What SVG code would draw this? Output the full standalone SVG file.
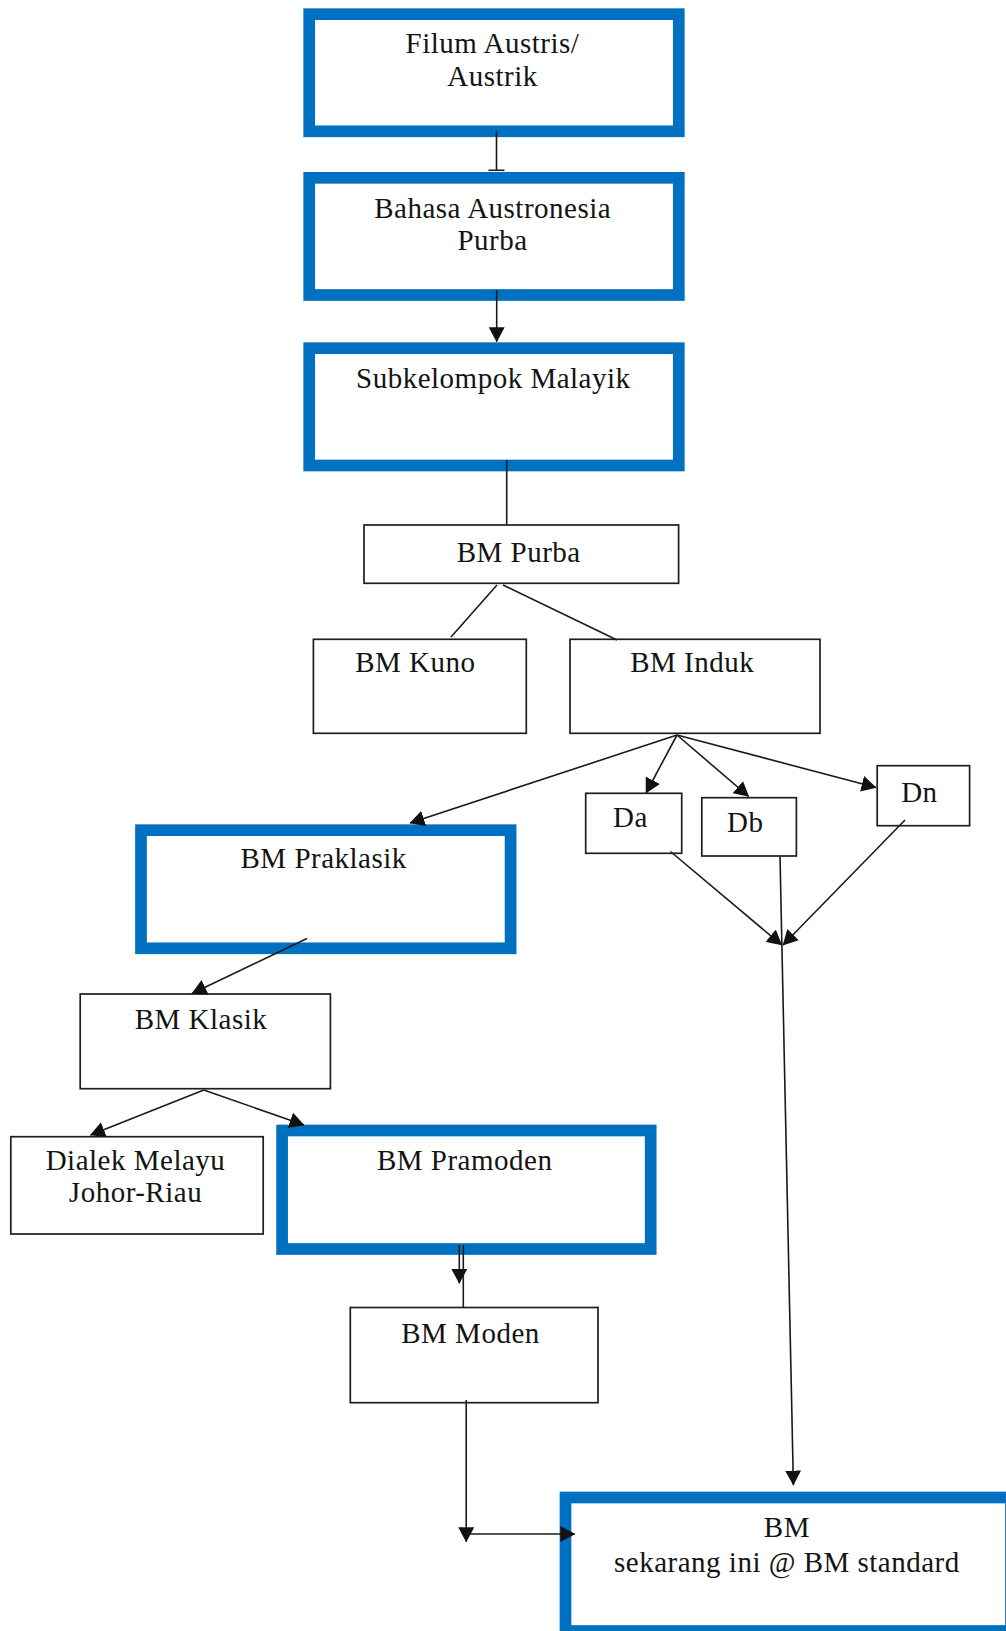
<svg xmlns="http://www.w3.org/2000/svg" width="1006" height="1631" viewBox="0 0 1006 1631">
<style>
.blue{fill:#fff;stroke:#0070C0;stroke-width:11.7}
.thin{fill:#fff;stroke:#1e1e1e;stroke-width:1.7}
.t{font-family:"Liberation Serif","Times New Roman",serif;font-size:29px;letter-spacing:0.5px;fill:#141414;text-anchor:middle}
.c{fill:none;stroke:#1a1a1a;stroke-width:1.6}
</style>
<defs>
<marker id="arr" markerUnits="userSpaceOnUse" markerWidth="15" markerHeight="16" viewBox="0 0 14 15" refX="13.5" refY="7.5" orient="auto"><path d="M0,0 L14,7.5 L0,15 z" fill="#111"/></marker>
</defs>
<rect width="1006" height="1631" fill="#fff"/>
<g id="n-filum"><rect class="blue" x="309.2" y="14.2" width="369.6" height="117.1"/><text class="t" x="492.5" y="53">Filum Austris/</text><text class="t" x="492.5" y="86">Austrik</text></g>
<g id="n-austronesia"><rect class="blue" x="309.2" y="177.8" width="369.6" height="117.2"/><text class="t" x="492.7" y="218.3">Bahasa Austronesia</text><text class="t" x="492.5" y="250">Purba</text></g>
<g id="n-malayik"><rect class="blue" x="309.2" y="348.2" width="369.6" height="117.3"/><text class="t" x="493.3" y="387.7">Subkelompok Malayik</text></g>
<g id="n-purba"><rect class="thin" x="364" y="525" width="314.6" height="58.3"/><text class="t" x="518.7" y="561.7">BM Purba</text></g>
<g id="n-kuno"><rect class="thin" x="313.4" y="639.3" width="212.9" height="94"/><text class="t" x="415.4" y="671.7">BM Kuno</text></g>
<g id="n-induk"><rect class="thin" x="570" y="639.3" width="250" height="94"/><text class="t" x="692.2" y="672">BM Induk</text></g>
<g id="n-da"><rect class="thin" x="585.7" y="793.3" width="96" height="60"/><text class="t" x="630.4" y="826.7">Da</text></g>
<g id="n-db"><rect class="thin" x="701.8" y="797.7" width="94.6" height="58.3"/><text class="t" x="745.3" y="831.7">Db</text></g>
<g id="n-dn"><rect class="thin" x="877.2" y="765.7" width="92.4" height="60"/><text class="t" x="919.4" y="801.7">Dn</text></g>
<g id="n-praklasik"><rect class="blue" x="141" y="830.2" width="369.6" height="118.1"/><text class="t" x="323.7" y="868.3">BM Praklasik</text></g>
<g id="n-klasik"><rect class="thin" x="80.2" y="994" width="250.2" height="94.7"/><text class="t" x="201" y="1029.3">BM Klasik</text></g>
<g id="n-dialek"><rect class="thin" x="10.8" y="1136.7" width="252.4" height="97.3"/><text class="t" x="135.5" y="1170">Dialek Melayu</text><text class="t" x="135.5" y="1201.7">Johor-Riau</text></g>
<g id="n-pramoden"><rect class="blue" x="282.1" y="1130.5" width="368.6" height="118.5"/><text class="t" x="464.7" y="1170">BM Pramoden</text></g>
<g id="n-moden"><rect class="thin" x="350.3" y="1307.5" width="247.7" height="95.2"/><text class="t" x="470.5" y="1343.3">BM Moden</text></g>
<g id="n-bm"><rect class="blue" x="565.5" y="1497.5" width="445.5" height="133.5"/><text class="t" x="786.9" y="1536.7">BM</text><text class="t" x="786.9" y="1571.7">sekarang ini @ BM standard</text></g>
<g id="connectors">
<path class="c" d="M496.5 131 V170 M488.5 170.2 H504.5"/>
<path class="c" d="M496.7 290 V341.7" marker-end="url(#arr)"/>
<path class="c" d="M506.7 460 V525"/>
<path class="c" d="M497 585 L451 637"/>
<path class="c" d="M503 585 L617 640"/>
<path class="c" d="M677 735 L410 823" marker-end="url(#arr)"/>
<path class="c" d="M677 735 L646 793" marker-end="url(#arr)"/>
<path class="c" d="M677 735 L748.7 796.5" marker-end="url(#arr)"/>
<path class="c" d="M677 735 L876 787.5" marker-end="url(#arr)"/>
<path class="c" d="M670.5 851.5 L781.7 945" marker-end="url(#arr)"/>
<path class="c" d="M905 820 L783 945" marker-end="url(#arr)"/>
<path class="c" d="M780 856.7 L793.4 1485" marker-end="url(#arr)"/>
<path class="c" d="M307 938.5 L192 993.5" marker-end="url(#arr)"/>
<path class="c" d="M203.8 1090 L90.5 1135" marker-end="url(#arr)"/>
<path class="c" d="M203.8 1090 L304 1125" marker-end="url(#arr)"/>
<path class="c" d="M459.3 1245 V1283.3" marker-end="url(#arr)"/>
<path class="c" d="M463.3 1245 V1308"/>
<path class="c" d="M466.2 1400 V1541.7" marker-end="url(#arr)"/>
<path class="c" d="M466.2 1534 H574.8" marker-end="url(#arr)"/>
</g>
</svg>
